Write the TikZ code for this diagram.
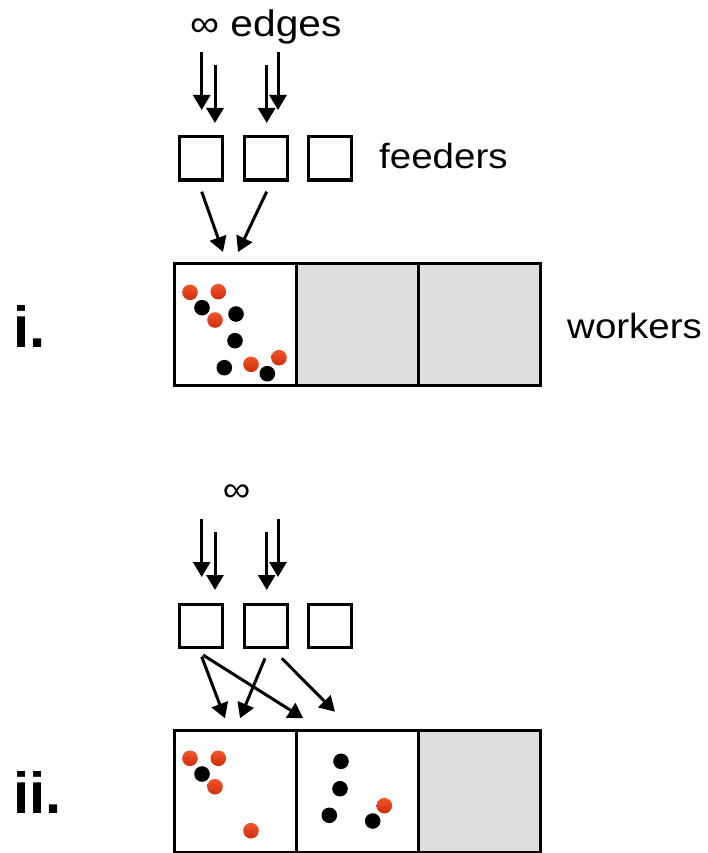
\documentclass[tikz,border=0pt]{standalone}
\usepackage{fontspec}
\setmainfont{Liberation Sans}
\newfontfamily\widesans{Liberation Sans}[FakeStretch=1.1]
\usetikzlibrary{arrows.meta}

\definecolor{cellgray}{RGB}{221,222,224}
\definecolor{dotredtop}{RGB}{242,84,42}
\definecolor{dotredbot}{RGB}{206,46,12}

\tikzset{
  feeder/.style={draw, line width=3pt, minimum width=43pt, minimum height=43pt, inner sep=0pt},
  cell/.style={draw, line width=3pt, minimum width=122pt, minimum height=122pt, inner sep=0pt},
  idle/.style={cell, fill=cellgray},
  flow/.style={line width=3pt, -{Triangle[width=17pt,length=15pt]}},
  reddot/.style={top color=dotredtop, bottom color=dotredbot},
  blackdot/.style={fill=black},
  label/.style={inner sep=0pt, font=\widesans\fontsize{35}{40}\selectfont},
  stage/.style={inner sep=0pt, font=\fontsize{58}{62}\selectfont\bfseries}
}

\begin{document}
\begin{tikzpicture}[x=1pt, y=-1pt]
  \useasboundingbox (0,0) rectangle (708,853);

  % ---------- stage i: two feeders serve a single worker ----------
  \node[label, anchor=base west, font=\widesans\fontsize{37}{42}\selectfont] (edgesA) at (190,37) {∞ edges};

  \node[feeder] (fA1) at (201,158.5) {};
  \node[feeder] (fA2) at (265.5,158.5) {};
  \node[feeder] (fA3) at (330,158.5) {};
  \node[label, anchor=base west] (feedersLbl) at (379,168) {feeders};

  \coordinate (inA1s) at (201.7,52);  \coordinate (inA1e) at (201.7,110);
  \coordinate (inA2s) at (215,65);    \coordinate (inA2e) at (215,123);
  \coordinate (inA3s) at (266.7,65);  \coordinate (inA3e) at (266.7,123);
  \coordinate (inA4s) at (278,52);    \coordinate (inA4e) at (278,110);
  \draw[flow] (inA1s) -- (inA1e);
  \draw[flow] (inA2s) -- (inA2e);
  \draw[flow] (inA3s) -- (inA3e);
  \draw[flow] (inA4s) -- (inA4e);

  \node[cell]  (wA1) at (235,324.4) {};
  \node[idle]  (wA2) at (357,324.4) {};
  \node[idle]  (wA3) at (479,324.4) {};
  \node[label, anchor=base west] (workersLbl) at (567,338) {workers};
  \node[stage, anchor=base west] (stageI) at (13,347.3) {i.};

  \coordinate (outA1s) at (201.7,191.7); \coordinate (outA1e) at (223,252);
  \coordinate (outA2s) at (266.7,191.7); \coordinate (outA2e) at (238,252);
  \draw[flow] (outA1s) -- (outA1e);
  \draw[flow] (outA2s) -- (outA2e);

  \foreach \px/\py in {190/292.3, 218.3/291.7, 215/320, 251/364.3, 279/357.7}
    \path[reddot] (\px,\py) circle[radius=7.8pt];
  \foreach \px/\py in {202/307.7, 236/314, 235/340.7, 224.3/367.7, 267.3/373.7}
    \path[blackdot] (\px,\py) circle[radius=7.8pt];

  % ---------- stage ii: work spread over two workers ----------
  \node[label, anchor=base] (edgesB) at (236.7,501.7) {∞};

  \node[feeder] (fB1) at (201,625.5) {};
  \node[feeder] (fB2) at (265.5,625.5) {};
  \node[feeder] (fB3) at (330,625.5) {};

  \coordinate (inB1s) at (201.7,519);  \coordinate (inB1e) at (201.7,577);
  \coordinate (inB2s) at (215,532);    \coordinate (inB2e) at (215,590);
  \coordinate (inB3s) at (266.7,532);  \coordinate (inB3e) at (266.7,590);
  \coordinate (inB4s) at (278,519);    \coordinate (inB4e) at (278,577);
  \draw[flow] (inB1s) -- (inB1e);
  \draw[flow] (inB2s) -- (inB2e);
  \draw[flow] (inB3s) -- (inB3e);
  \draw[flow] (inB4s) -- (inB4e);

  \node[cell]  (wB1) at (235,791.4) {};
  \node[cell]  (wB2) at (357,791.4) {};
  \node[idle]  (wB3) at (479,791.4) {};
  \node[stage, anchor=base west] (stageII) at (13,813.3) {ii.};

  \coordinate (outB1s) at (201.7,656.7); \coordinate (outB1e) at (225,718.3);
  \coordinate (outB2s) at (203,655);     \coordinate (outB2e) at (303.3,718.3);
  \coordinate (outB3s) at (265,658.3);   \coordinate (outB3e) at (240,718.3);
  \coordinate (outB4s) at (281.7,658.3); \coordinate (outB4e) at (335,711.7);
  \draw[flow] (outB1s) -- (outB1e);
  \draw[flow] (outB2s) -- (outB2e);
  \draw[flow] (outB3s) -- (outB3e);
  \draw[flow] (outB4s) -- (outB4e);

  \foreach \px/\py in {190/758.3, 218.3/758.3, 215/786.7, 251/830.7, 384.3/805.7}
    \path[reddot] (\px,\py) circle[radius=7.8pt];
  \foreach \px/\py in {202/774, 341/761.3, 340/788.7, 329.3/815.3, 372.7/821}
    \path[blackdot] (\px,\py) circle[radius=7.8pt];
\end{tikzpicture}
\end{document}
